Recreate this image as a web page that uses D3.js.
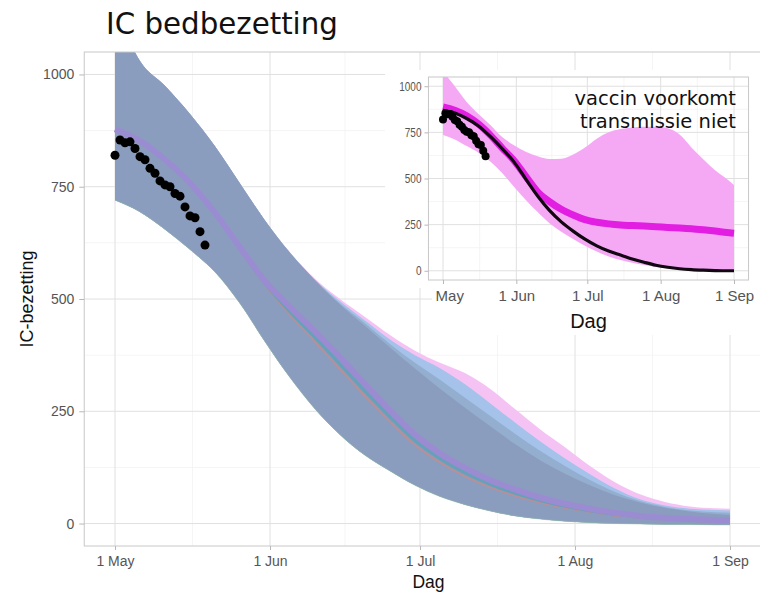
<!DOCTYPE html>
<html><head><meta charset="utf-8">
<script src="https://cdn.jsdelivr.net/npm/d3@7"></script>
<style>body{margin:0;background:#fff;} svg{display:block;}</style>
</head><body>
<svg id="c" width="760" height="594"></svg>
<script>
// ---------- DATA ----------
const days = [0,5,10,15,20,25,30,35,40,45,50,55,60,65,70,75,80,85,90,95,100,105,110,115,120,123];
// main chart: scenario bands (shared lower bound) and means
const mainLower      = [720,694,655,610,560,490,405,325,255,198,152,117,85,60,42,28,17,10,5,2,0,-1,-2,-2,-3,-3];
const mainUpperDark  = [1150,1030,975,912,840,757,675,603,542,488,440,392,345,300,258,217,177,141,111,85,63,47,35,27,21,19];
const mainUpperMid   = [1150,1030,975,912,840,757,675,603,542,490,446,400,358,320,280,240,200,162,128,97,70,50,37,29,25,24];
const mainUpperBlue  = [1150,1030,975,912,840,757,675,603,543,495,452,410,375,346,310,268,225,183,145,110,78,54,40,33,30,29];
const mainUpperPink  = [1150,1030,975,912,840,757,675,604,545,500,460,420,385,358,335,300,255,210,170,128,92,65,48,38,34,33];
const mainMeanPurple = [878,852,810,758,692,615,540,482,428,370,310,252,198,156,124,97,76,58,44,33,24,17,13,10,8,7];
const mainMeanTeal   = [876,850,808,756,690,612,536,472,415,355,295,238,185,145,113,88,68,52,39,29,21,15,11,8,6,5];
const mainMeanRed    = [875,849,807,755,688,609,532,465,405,344,284,227,175,136,105,81,62,47,35,26,18,13,9,6,4,3];
// observed IC occupancy (days since 1 May)
const obsDays   = [0,1,2,3,4,5,6,7,8,9,10,11,12,13,14,15,16,17,18];
const obsValues = [820,854,848,850,835,817,810,791,780,763,754,750,735,729,705,685,681,650,620];
// inset: "vaccin voorkomt transmissie niet"
const insetLower = [736,712,676,640,592,530,455,383,318,258,212,172,135,105,78,58,43,31,21,13,7,4,2,1,0,0];
const insetUpper = [1080,1000,915,850,790,725,680,645,620,605,607,630,668,716,750,768,777,781,780,772,738,668,604,545,497,465];
const insetMean  = [888,870,840,795,735,665,598,512,428,375,333,302,277,263,254,248,245,242,239,235,232,228,222,215,207,203];
const insetBlack = [870,855,825,785,728,662,590,497,405,327,265,215,171,135,107,85,64,46,30,19,11,6,3,1,0,0];
// ticks
const yTicks = [0,250,500,750,1000];
const yMinor = [125,375,625,875];
const xTickDates = [new Date(2021,4,1), new Date(2021,5,1), new Date(2021,6,1), new Date(2021,7,1), new Date(2021,8,1)];
const titleText = "IC bedbezetting";
const yTitle = "IC-bezetting";
const xTitle = "Dag";
const insetNote = ["vaccin voorkomt", "transmissie niet"];

// ---------- SETUP ----------
const start = xTickDates[0];
const dt = d => d3.timeDay.offset(start, d);
const fmt = d3.timeFormat("%-d %b");
const yFmt = d3.format("d");
const minorDates = xTickDates.slice(0,-1).map((d,i)=> new Date((+d + +xTickDates[i+1])/2));
const svg = d3.select("#c");
const SANS = "'Liberation Sans', Arial, sans-serif";

function panel(g, x, y){
  const [x0,x1] = x.range(), ext = (x1-x0)*0.05;
  const L = x0-ext, R = x1+ext;
  const [B,T] = y.range();
  g.append("rect").attr("x",L).attr("y",T).attr("width",R-L).attr("height",B-T).attr("fill","#fff");
  g.selectAll(null).data(yMinor).join("line").attr("x1",L).attr("x2",R)
    .attr("y1",d=>y(d)).attr("y2",d=>y(d)).attr("stroke","#f0f0f0").attr("stroke-width",0.7);
  g.selectAll(null).data(minorDates).join("line").attr("y1",T).attr("y2",B)
    .attr("x1",d=>x(d)).attr("x2",d=>x(d)).attr("stroke","#f0f0f0").attr("stroke-width",0.7);
  g.selectAll(null).data(yTicks).join("line").attr("x1",L).attr("x2",R)
    .attr("y1",d=>y(d)).attr("y2",d=>y(d)).attr("stroke","#e0e0e0").attr("stroke-width",1);
  g.selectAll(null).data(xTickDates).join("line").attr("y1",T).attr("y2",B)
    .attr("x1",d=>x(d)).attr("x2",d=>x(d)).attr("stroke","#e0e0e0").attr("stroke-width",1);
  return {L,R,T,B};
}
function border(g, p){
  g.append("rect").attr("x",p.L).attr("y",p.T).attr("width",p.R-p.L).attr("height",p.B-p.T)
    .attr("fill","none").attr("stroke","#c8c8c8").attr("stroke-width",1);
}
function styleAxis(a, size, col){
  a.select(".domain").remove();
  a.selectAll(".tick line").attr("stroke","#b8b8b8");
  a.selectAll("text").attr("font-family",SANS).attr("font-size",size).attr("fill",col);
}

// ---------- MAIN ----------
const x = d3.scaleTime().domain([xTickDates[0], xTickDates[4]]).range([115,730]);
const y = d3.scaleLinear().domain([-50,1050]).range([546,52]);
const gMain = svg.append("g");
const pm = panel(gMain, x, y);
svg.append("clipPath").attr("id","cpMain").append("rect")
  .attr("x",pm.L).attr("y",pm.T).attr("width",pm.R-pm.L).attr("height",pm.B-pm.T);
const gData = gMain.append("g").attr("clip-path","url(#cpMain)");
const band = (up, lo) => d3.area().x((d,i)=>x(dt(days[i]))).y0((d,i)=>y(lo[i])).y1((d,i)=>y(up[i])).curve(d3.curveMonotoneX)(days);
const line = (vals) => d3.line().x((d,i)=>x(dt(days[i]))).y((d,i)=>y(vals[i])).curve(d3.curveMonotoneX)(days);
gData.append("path").attr("d",band(mainUpperPink, mainLower)).attr("fill","#f4c3f4");
gData.append("path").attr("d",band(mainUpperBlue, mainLower)).attr("fill","#a4c2ea");
gData.append("path").attr("d",band(mainUpperMid, mainLower)).attr("fill","#94aecf");
gData.append("path").attr("d",band(mainUpperDark, mainLower)).attr("fill","#8b9dbe");
gData.append("path").attr("d",line(mainLower)).attr("fill","none").attr("stroke","#8fbf96").attr("stroke-width",0.8).attr("opacity",0.6);
gData.append("path").attr("d",line(mainMeanRed)).attr("fill","none").attr("stroke","#c98a8a").attr("stroke-width",2).attr("opacity",0.7);
gData.append("path").attr("d",line(mainMeanTeal)).attr("fill","none").attr("stroke","#5fa2b9").attr("stroke-width",3.5).attr("opacity",0.85);
gData.append("path").attr("d",line(mainMeanPurple)).attr("fill","none").attr("stroke","#9c8bd3").attr("stroke-width",6).attr("opacity",0.95);
gData.selectAll(null).data(obsDays).join("circle")
  .attr("cx",(d)=>x(dt(d))).attr("cy",(d,i)=>y(obsValues[i])).attr("r",4.5).attr("fill","#000");
border(gMain, pm);
const axL = svg.append("g").attr("transform",`translate(${pm.L},0)`)
  .call(d3.axisLeft(y).tickValues(yTicks).tickFormat(yFmt).tickSize(5).tickPadding(5));
styleAxis(axL, 14, "#555");
const axB = svg.append("g").attr("transform",`translate(0,${pm.B})`)
  .call(d3.axisBottom(x).tickValues(xTickDates).tickFormat(fmt).tickSize(4).tickPadding(6));
styleAxis(axB, 14, "#555");
svg.append("text").attr("x",(pm.L+pm.R)/2+6).attr("y",588).attr("text-anchor","middle")
  .attr("font-family",SANS).attr("font-size",17.5).attr("fill","#111").text(xTitle);
svg.append("text").attr("transform",`translate(33,${(pm.T+pm.B)/2}) rotate(-90)`).attr("text-anchor","middle")
  .attr("font-family",SANS).attr("font-size",18).attr("fill","#111").text(yTitle);
svg.append("text").attr("x",106).attr("y",34).attr("font-family","'DejaVu Sans', Verdana, sans-serif")
  .attr("font-size",29.3).attr("fill","#111").text(titleText);

// ---------- INSET ----------
const cpI = svg.append("clipPath").attr("id","cpInsetBox");
cpI.append("rect").attr("x",385).attr("y",70).attr("width",375).attr("height",218);
cpI.append("rect").attr("x",432).attr("y",287).attr("width",328).attr("height",48);
const gInset = svg.append("g").attr("clip-path","url(#cpInsetBox)");
gInset.append("rect").attr("x",380).attr("y",60).attr("width",380).attr("height",280).attr("fill","#fff");
const xi = d3.scaleTime().domain([xTickDates[0], xTickDates[4]]).range([443,734]);
const yi = d3.scaleLinear().domain([-50,1050]).range([280,77]);
const pi = panel(gInset, xi, yi);
const cpP = svg.append("clipPath").attr("id","cpInsetPanel");
cpP.append("rect").attr("x",pi.L).attr("y",pi.T).attr("width",pi.R-pi.L).attr("height",pi.B-pi.T);
const gi = gInset.append("g").attr("clip-path","url(#cpInsetPanel)");
const bandI = (up, lo) => d3.area().x((d,i)=>xi(dt(days[i]))).y0((d,i)=>yi(lo[i])).y1((d,i)=>yi(up[i])).curve(d3.curveMonotoneX)(days);
const lineI = (vals) => d3.line().x((d,i)=>xi(dt(days[i]))).y((d,i)=>yi(vals[i])).curve(d3.curveMonotoneX)(days);
gi.append("path").attr("d",bandI(insetUpper, insetLower)).attr("fill","#f5a9f5");
gi.append("path").attr("d",lineI(insetMean)).attr("fill","none").attr("stroke","#e21ee2").attr("stroke-width",7);
gi.append("path").attr("d",lineI(insetBlack)).attr("fill","none").attr("stroke","#120812").attr("stroke-width",3.2);
gi.selectAll(null).data(obsDays).join("circle")
  .attr("cx",(d)=>xi(dt(d))).attr("cy",(d,i)=>yi(obsValues[i])).attr("r",4).attr("fill","#000");
border(gInset, pi);
const aiL = gInset.append("g").attr("transform",`translate(${pi.L},0)`)
  .call(d3.axisLeft(yi).tickValues(yTicks).tickFormat(yFmt).tickSize(4).tickPadding(3));
styleAxis(aiL, 12.5, "#555");
aiL.selectAll("text").attr("transform","scale(0.8,1)").attr("x",-7/0.8);
const aiB = gInset.append("g").attr("transform",`translate(0,${pi.B})`)
  .call(d3.axisBottom(xi).tickValues(xTickDates).tickFormat(fmt).tickSize(4).tickPadding(6));
styleAxis(aiB, 15, "#555");
gInset.append("text").attr("x",(pi.L+pi.R)/2).attr("y",328).attr("text-anchor","middle")
  .attr("font-family",SANS).attr("font-size",20).attr("fill","#111").text(xTitle);
gInset.selectAll(null).data(insetNote).join("text")
  .attr("x",736).attr("y",(d,i)=>105+i*23).attr("text-anchor","end")
  .attr("font-family","'DejaVu Sans', Verdana, sans-serif").attr("font-size",19.5).attr("fill","#111").text(d=>d);
</script>
</body></html>
